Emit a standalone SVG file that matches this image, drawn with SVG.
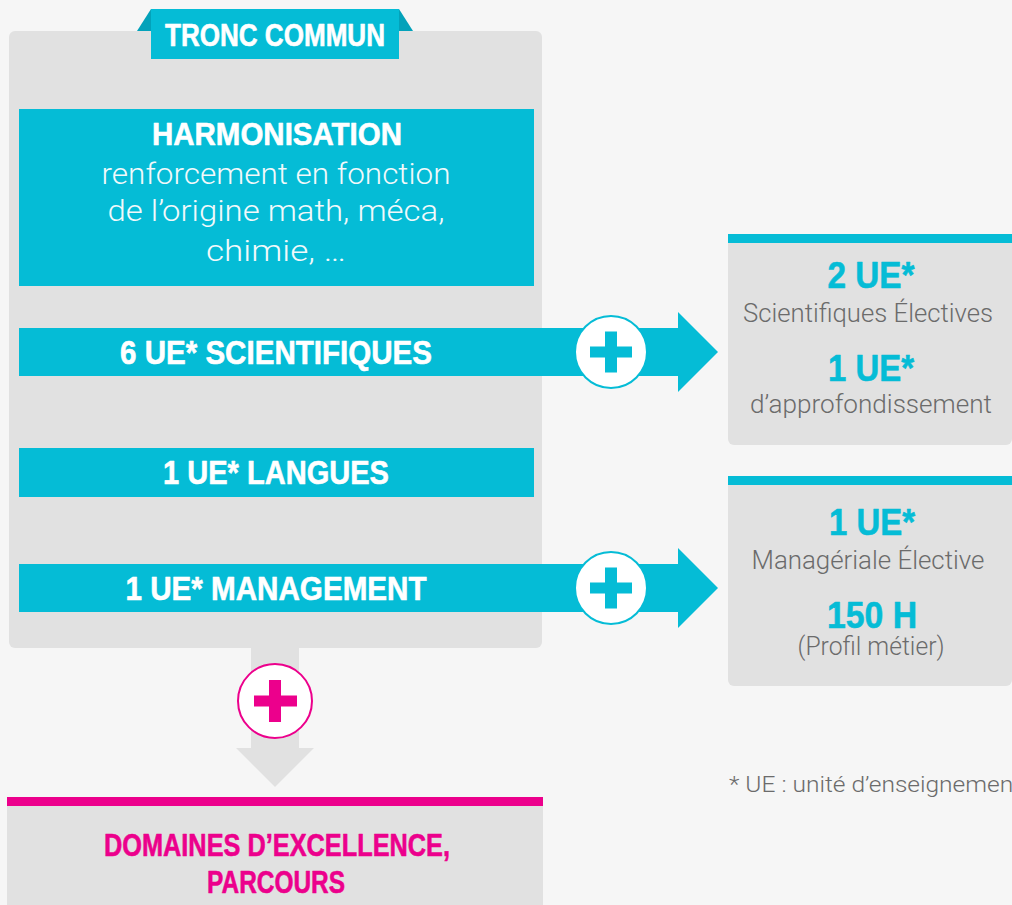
<svg xmlns="http://www.w3.org/2000/svg" width="1012" height="905" viewBox="0 0 1012 905">
  <style>
    .bold { font-family: "Liberation Sans", Arial, sans-serif; font-weight: 700; text-anchor: middle; stroke-width: 0.6; stroke-linejoin: round; }
    .light { font-family: Roboto, "Liberation Sans", sans-serif; font-weight: 300; text-anchor: middle; }
    .white { fill: #ffffff; }
    .bold.white { stroke: #ffffff; }
    .soft { fill: #f2f9fb; }
    .teal { fill: #05bcd6; }
    .bold.teal { stroke: #05bcd6; }
    .pink { fill: #ec008c; }
    .bold.pink { stroke: #ec008c; }
    .grey { fill: #6b6b6b; }
    .panel { fill: #e1e1e1; }
  </style>
  <defs>
    <g id="plusTeal">
      <circle r="36" fill="#ffffff" stroke="#05bcd6" stroke-width="2"/>
      <rect x="-21" y="-5.5" width="42" height="11" fill="#05bcd6"/>
      <rect x="-6" y="-20.5" width="12" height="41" fill="#05bcd6"/>
    </g>
  </defs>

  <rect width="1012" height="905" fill="#f6f6f6"/>

  <!-- common core panel -->
  <g id="tronc-commun">
    <rect class="panel" x="9" y="31" width="533" height="617" rx="6"/>
    <polygon points="137,31 151,9 151,31" fill="#03a2ba"/>
    <polygon points="413,31 399,9 399,31" fill="#03a2ba"/>
    <rect class="teal" x="151" y="9" width="248" height="50"/>
    <text class="bold white" x="275" y="46" font-size="31" textLength="220" lengthAdjust="spacingAndGlyphs">TRONC COMMUN</text>
  </g>

  <!-- connectors: arrows out of the panel -->
  <g id="connectors">
    <polygon class="teal" points="19,328 678,328 678,312 718,352 678,392 678,376 19,376"/>
    <polygon class="teal" points="19,564 678,564 678,548 718,588 678,628 678,612 19,612"/>
    <polygon class="panel" points="251,648 299,648 299,748 314,748 275,787 236,748 251,748"/>
    <use href="#plusTeal" x="611" y="352"/>
    <use href="#plusTeal" x="611" y="588"/>
    <g transform="translate(275,701)">
      <circle r="37" fill="#ffffff" stroke="#ec008c" stroke-width="2"/>
      <rect x="-21" y="-5.5" width="43" height="11" fill="#ec008c"/>
      <rect x="-6" y="-21" width="12" height="42" fill="#ec008c"/>
    </g>
  </g>

  <g id="harmonisation">
    <rect class="teal" x="19" y="109" width="515" height="177"/>
    <text class="bold white" x="277" y="145" font-size="32" textLength="250" lengthAdjust="spacingAndGlyphs">HARMONISATION</text>
    <text class="light soft" x="276" y="184" font-size="29" textLength="349" lengthAdjust="spacingAndGlyphs">renforcement en fonction</text>
    <text class="light soft" x="276" y="221" font-size="29" textLength="337" lengthAdjust="spacingAndGlyphs">de l’origine math, méca,</text>
    <text class="light soft" x="276" y="261" font-size="29" textLength="140" lengthAdjust="spacingAndGlyphs">chimie, …</text>
  </g>

  <g id="ue-scientifiques">
    <text class="bold white" x="276" y="364" font-size="33" textLength="312" lengthAdjust="spacingAndGlyphs">6 UE* SCIENTIFIQUES</text>
  </g>

  <g id="ue-langues">
    <rect class="teal" x="19" y="448" width="515" height="49"/>
    <text class="bold white" x="276" y="484" font-size="33" textLength="226" lengthAdjust="spacingAndGlyphs">1 UE* LANGUES</text>
  </g>

  <g id="ue-management">
    <text class="bold white" x="276" y="600" font-size="33" textLength="301" lengthAdjust="spacingAndGlyphs">1 UE* MANAGEMENT</text>
  </g>

  <!-- elective boxes -->
  <g id="electives-sci">
    <rect class="panel" x="728" y="238" width="284" height="207" rx="6"/>
    <rect class="teal" x="728" y="234" width="284" height="9"/>
    <text class="bold teal" x="871" y="288" font-size="36" textLength="87" lengthAdjust="spacingAndGlyphs">2 UE*</text>
    <text class="light grey" x="868" y="322" font-size="25" textLength="250" lengthAdjust="spacingAndGlyphs">Scientifiques Électives</text>
    <text class="bold teal" x="871" y="381" font-size="37" textLength="86" lengthAdjust="spacingAndGlyphs">1 UE*</text>
    <text class="light grey" x="871" y="413" font-size="25" textLength="242" lengthAdjust="spacingAndGlyphs">d’approfondissement</text>
  </g>

  <g id="electives-man">
    <rect class="panel" x="728" y="480" width="284" height="206" rx="6"/>
    <rect class="teal" x="728" y="476" width="284" height="9"/>
    <text class="bold teal" x="872" y="535" font-size="37" textLength="86" lengthAdjust="spacingAndGlyphs">1 UE*</text>
    <text class="light grey" x="868" y="569" font-size="25" textLength="233" lengthAdjust="spacingAndGlyphs">Managériale Élective</text>
    <text class="bold teal" x="872" y="628" font-size="37" textLength="90" lengthAdjust="spacingAndGlyphs">150 H</text>
    <text class="light grey" x="871" y="655" font-size="25" textLength="147" lengthAdjust="spacingAndGlyphs">(Profil métier)</text>
  </g>

  <g id="domaines">
    <rect class="panel" x="7" y="806" width="536" height="99"/>
    <rect class="pink" x="7" y="797" width="536" height="9"/>
    <text class="bold pink" x="277" y="856" font-size="32" textLength="346" lengthAdjust="spacingAndGlyphs">DOMAINES D’EXCELLENCE,</text>
    <text class="bold pink" x="276" y="893" font-size="32" textLength="138" lengthAdjust="spacingAndGlyphs">PARCOURS</text>
  </g>

  <text class="light grey" x="729" y="792" font-size="22" textLength="292" lengthAdjust="spacingAndGlyphs" style="text-anchor:start">* UE : unité d’enseignement</text>
</svg>
